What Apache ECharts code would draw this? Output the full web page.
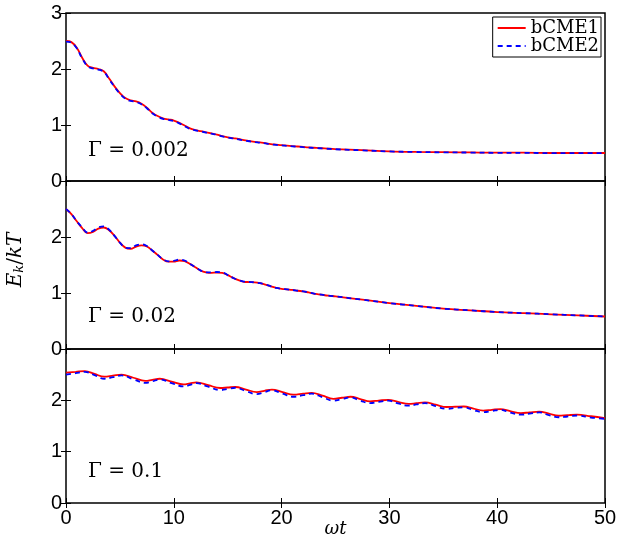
<!DOCTYPE html>
<html>
<head>
<meta charset="utf-8">
<script src="https://cdn.jsdelivr.net/npm/echarts@6/dist/echarts.min.js"></script>
<style>
html, body { margin: 0; padding: 0; background: #fff; }
#chart { width: 617px; height: 538px; }
</style>
</head>
<body>
<div id="chart"></div>
<script>
// time grid for the two upper panels (fine where the wiggles are)
const T_UP = [0, 0.5, 1, 1.5, 2, 2.5, 3, 3.5, 4, 4.5, 5, 5.5, 6, 6.5, 7, 7.5, 8, 8.5, 9, 9.5,
    10, 10.5, 11, 11.5, 12, 12.5, 13, 13.5, 14, 14.5, 15, 15.5, 16, 16.5, 17, 17.5, 18, 18.5, 19, 19.5,
    20, 20.5, 21, 21.5, 22, 22.5, 23, 23.5, 24, 24.5, 25, 27.5, 30, 32.5, 35, 37.5, 40, 42.5, 45, 47.5, 50];

// Gamma = 0.002
const TOP_BCME1 = [2.50, 2.48, 2.38, 2.20, 2.06, 2.02, 2.00, 1.96, 1.83, 1.69, 1.57, 1.48, 1.44, 1.42, 1.38, 1.31, 1.22, 1.16, 1.12, 1.10,
    1.08, 1.04, 0.99, 0.94, 0.91, 0.89, 0.87, 0.85, 0.83, 0.80, 0.78, 0.765, 0.75, 0.73, 0.715, 0.70, 0.69, 0.675, 0.66, 0.65,
    0.64, 0.632, 0.624, 0.616, 0.608, 0.60, 0.594, 0.588, 0.582, 0.576, 0.57, 0.55, 0.53, 0.52, 0.515, 0.51, 0.505, 0.505, 0.50, 0.50, 0.50];
const TOP_BCME2 = [2.49, 2.47, 2.37, 2.19, 2.05, 2.01, 1.99, 1.95, 1.82, 1.68, 1.56, 1.47, 1.43, 1.41, 1.37, 1.30, 1.21, 1.15, 1.11, 1.09,
    1.07, 1.03, 0.98, 0.93, 0.905, 0.885, 0.865, 0.845, 0.825, 0.795, 0.775, 0.76, 0.745, 0.725, 0.71, 0.695, 0.685, 0.67, 0.655, 0.645,
    0.635, 0.628, 0.62, 0.612, 0.604, 0.597, 0.591, 0.585, 0.579, 0.573, 0.567, 0.547, 0.528, 0.518, 0.512, 0.508, 0.503, 0.502, 0.498, 0.497, 0.497];

// Gamma = 0.02
const MID_BCME1 = [2.50, 2.41, 2.28, 2.16, 2.07, 2.09, 2.15, 2.17, 2.12, 2.02, 1.90, 1.81, 1.79, 1.83, 1.85, 1.83, 1.76, 1.68, 1.60, 1.56,
    1.56, 1.58, 1.57, 1.52, 1.46, 1.40, 1.37, 1.36, 1.365, 1.36, 1.32, 1.27, 1.23, 1.20, 1.195, 1.19, 1.175, 1.15, 1.12, 1.09,
    1.075, 1.065, 1.055, 1.04, 1.03, 1.01, 0.99, 0.975, 0.96, 0.95, 0.94, 0.88, 0.82, 0.77, 0.72, 0.69, 0.66, 0.64, 0.62, 0.60, 0.58];
const MID_BCME2 = [2.50, 2.41, 2.28, 2.17, 2.08, 2.11, 2.17, 2.19, 2.13, 2.02, 1.90, 1.81, 1.80, 1.85, 1.87, 1.84, 1.76, 1.68, 1.60, 1.565,
    1.575, 1.595, 1.58, 1.52, 1.46, 1.40, 1.37, 1.37, 1.375, 1.37, 1.32, 1.27, 1.23, 1.205, 1.20, 1.19, 1.175, 1.15, 1.12, 1.09,
    1.075, 1.065, 1.055, 1.04, 1.03, 1.01, 0.99, 0.975, 0.96, 0.95, 0.94, 0.88, 0.82, 0.77, 0.72, 0.69, 0.66, 0.64, 0.62, 0.60, 0.58];

// Gamma = 0.1 : points at the peaks, troughs and in between
const T_BOT = [0, 0.9, 1.75, 2.65, 3.55, 4.35, 5.15, 6.25, 7.35, 8.0, 8.7, 9.8, 10.9, 11.5, 12.1, 13.2, 14.3, 15.0, 15.7, 16.7,
    17.7, 18.4, 19.1, 20.1, 21.1, 22.0, 22.8, 23.8, 24.8, 25.6, 26.4, 27.3, 28.2, 29.0, 29.9, 30.8, 31.8, 32.5, 33.3, 34.3,
    35.3, 36.1, 36.9, 37.8, 38.7, 39.5, 40.3, 41.2, 42.2, 43.0, 43.9, 44.8, 45.7, 46.5, 47.4, 48.7, 50];
const BOT_BCME1 = [2.54, 2.555, 2.57, 2.515, 2.46, 2.48, 2.50, 2.44, 2.38, 2.40, 2.42, 2.365, 2.31, 2.33, 2.35, 2.295, 2.24, 2.25, 2.26, 2.21,
    2.16, 2.185, 2.21, 2.16, 2.11, 2.13, 2.145, 2.09, 2.03, 2.05, 2.07, 2.025, 1.98, 1.995, 2.01, 1.97, 1.93, 1.945, 1.96, 1.915,
    1.87, 1.875, 1.88, 1.84, 1.80, 1.815, 1.83, 1.79, 1.75, 1.765, 1.78, 1.74, 1.70, 1.71, 1.72, 1.69, 1.655];
const BOT_BCME2 = [2.50, 2.53, 2.555, 2.49, 2.42, 2.45, 2.485, 2.41, 2.34, 2.37, 2.405, 2.335, 2.27, 2.30, 2.335, 2.265, 2.20, 2.22, 2.245, 2.18,
    2.12, 2.16, 2.195, 2.13, 2.07, 2.10, 2.13, 2.06, 1.995, 2.025, 2.055, 1.995, 1.945, 1.97, 1.995, 1.94, 1.895, 1.92, 1.945, 1.885,
    1.835, 1.85, 1.865, 1.81, 1.77, 1.79, 1.815, 1.76, 1.72, 1.74, 1.765, 1.71, 1.67, 1.685, 1.705, 1.665, 1.64];

const X_TICKS = [0, 10, 20, 30, 40, 50];
const GAMMA_LABELS = ['\u0393 = 0.002', '\u0393 = 0.02', '\u0393 = 0.1'];

const PANELS = [
    { t: T_UP, a: TOP_BCME1, b: TOP_BCME2 },
    { t: T_UP, a: MID_BCME1, b: MID_BCME2 },
    { t: T_BOT, a: BOT_BCME1, b: BOT_BCME2 }
];

const SANS = 'Liberation Sans, Arial, sans-serif';
const SERIF = 'DejaVu Serif, serif';

let chart = echarts.init(document.getElementById('chart'));

const GRID_BOXES = [
    { left: 66, width: 539, top: 13, height: 168 },
    { left: 66, width: 539, top: 181, height: 168 },
    { left: 66, width: 539, top: 349, height: 154 }
];

let grids = GRID_BOXES.map(function (g) {
    return Object.assign({
        show: true, borderColor: '#000', borderWidth: 1.5,
        containLabel: false, outerBoundsMode: 'none'
    }, g);
});

let tick = { show: true, inside: true, length: 5, lineStyle: { color: '#000', width: 1 } };

let xAxes = [];
let yAxes = [];
PANELS.forEach(function (p, g) {
    xAxes.push({
        type: 'value', gridIndex: g, position: 'bottom',
        min: X_TICKS[0], max: X_TICKS[X_TICKS.length - 1], interval: 10,
        axisLine: { show: false }, axisTick: tick, splitLine: { show: false },
        axisLabel: { show: g === 2, color: '#000', fontFamily: SANS, fontSize: 20, margin: 5 },
        name: g === 2 ? '{i|\u03c9t}' : '',
        nameLocation: 'middle', nameGap: 17, nameMoveOverlap: false,
        nameTextStyle: { rich: { i: { fontFamily: SERIF, fontStyle: 'italic', fontSize: 18, color: '#000' } } }
    });
    xAxes.push({
        type: 'value', gridIndex: g, position: 'top',
        min: 0, max: 50, interval: 10,
        axisLine: { show: false }, axisTick: tick, splitLine: { show: false },
        axisLabel: { show: false }
    });
    yAxes.push({
        type: 'value', gridIndex: g, position: 'left',
        min: 0, max: 3, interval: 1,
        axisLine: { show: false }, axisTick: tick, splitLine: { show: false },
        axisLabel: { color: '#000', fontFamily: SANS, fontSize: 20, margin: 4, showMaxLabel: g === 0, showMinLabel: true },
        name: g === 1 ? '{i|E}{s|k}{n|/}{i|kT}' : '',
        nameLocation: 'middle', nameGap: 40, nameRotate: 90, nameMoveOverlap: false,
        nameTextStyle: {
            padding: [0, 0, 0, 10],
            rich: {
                i: { fontFamily: SERIF, fontStyle: 'italic', fontSize: 20, color: '#000' },
                s: { fontFamily: SERIF, fontStyle: 'italic', fontSize: 13, color: '#000', padding: [8, 0, 0, 0] },
                n: { fontFamily: SERIF, fontSize: 20, color: '#000' }
            }
        }
    });
    yAxes.push({
        type: 'value', gridIndex: g, position: 'right',
        min: 0, max: 3, interval: 1,
        axisLine: { show: false }, axisTick: tick, splitLine: { show: false },
        axisLabel: { show: false }
    });
});

let series = [];
PANELS.forEach(function (p, g) {
    series.push({
        name: 'bCME1', type: 'line', xAxisIndex: 2 * g, yAxisIndex: 2 * g,
        data: p.t.map(function (t, i) { return [t, p.a[i]]; }),
        smooth: 0.4, symbol: 'none', silent: true,
        lineStyle: { color: '#ff0000', width: 1.8 }, itemStyle: { color: '#ff0000' }
    });
    series.push({
        name: 'bCME2', type: 'line', xAxisIndex: 2 * g, yAxisIndex: 2 * g,
        data: p.t.map(function (t, i) { return [t, p.b[i]]; }),
        smooth: 0.4, symbol: 'none', silent: true,
        lineStyle: { color: '#0000ff', width: 1.8, type: [5, 4] }, itemStyle: { color: '#0000ff' }
    });
});

let gammaY = [153, 319, 474];
let graphics = GAMMA_LABELS.map(function (txt, i) {
    return {
        type: 'text', left: 88, top: gammaY[i] - 12,
        style: { text: txt, font: '20px "DejaVu Serif"', fill: '#000' }
    };
});

let echarts_options = {
    backgroundColor: '#fff',
    animation: false,
    grid: grids,
    xAxis: xAxes,
    yAxis: yAxes,
    legend: {
        data: ['bCME1', 'bCME2'],
        orient: 'vertical', right: 16, top: 17,
        padding: [2, 2, 2, 4], itemGap: 0, itemWidth: 28, itemHeight: 16,
        itemStyle: { opacity: 0 },
        borderColor: '#000', borderWidth: 1, backgroundColor: '#fff',
        textStyle: { fontFamily: SERIF, fontSize: 18, color: '#000', lineHeight: 16 }
    },
    graphic: graphics,
    series: series
};

chart.setOption(echarts_options);
</script>
</body>
</html>
